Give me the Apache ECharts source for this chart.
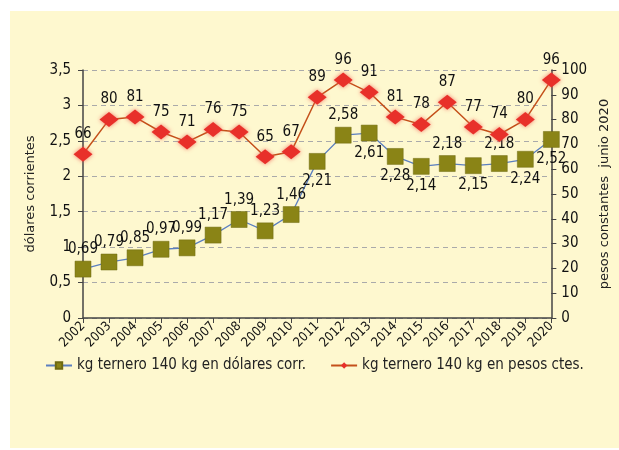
<!DOCTYPE html>
<html>
<head>
<meta charset="utf-8">
<script src="https://cdn.jsdelivr.net/npm/echarts@6/dist/echarts.min.js"></script>
<style>
  html, body { margin: 0; padding: 0; background: #ffffff; }
  #panel { position: absolute; left: 10px; top: 11px; width: 609px; height: 437px; background: #fef8cf; }
  #chart { position: absolute; left: 0; top: 0; width: 619px; height: 450px; }
</style>
</head>
<body>
<div id="panel"></div>
<div id="chart"></div>
<script>
// years on the x axis
const years = ['2002', '2003', '2004', '2005', '2006', '2007', '2008', '2009', '2010', '2011',
  '2012', '2013', '2014', '2015', '2016', '2017', '2018', '2019', '2020'];
// kg ternero en dólares corrientes
const dolares = [0.69, 0.79, 0.85, 0.97, 0.99, 1.17, 1.39, 1.23, 1.46, 2.21,
  2.58, 2.61, 2.28, 2.14, 2.18, 2.15, 2.18, 2.24, 2.52];
// kg ternero en pesos constantes
const pesos = [66, 80, 81, 75, 71, 76, 75, 65, 67, 89, 96, 91, 81, 78, 87, 77, 74, 80, 96];
// where each dollar label sits
const dolarLabelPos = ['top', 'top', 'top', 'top', 'top', 'top', 'top', 'top', 'top', 'bottom',
  'top', 'bottom', 'bottom', 'bottom', 'top', 'bottom', 'top', 'bottom', 'bottom'];

const font = '"DejaVu Sans Condensed", "Liberation Sans Narrow", sans-serif';
const comma = v => String(v).replace('.', ',');

const chart = echarts.init(document.getElementById('chart'));
chart.setOption({
  textStyle: { fontFamily: font },
  grid: { left: 83, right: 67, top: 70, bottom: 132 },
  legend: {
    left: 40, top: 353, width: 570,
    itemWidth: 26, itemHeight: 8, itemGap: 24,
    textStyle: { fontFamily: font, fontSize: 15, color: '#222' },
    data: ['kg ternero 140 kg en dólares corr.', 'kg ternero 140 kg en pesos ctes.']
  },
  xAxis: {
    type: 'category',
    data: years,
    boundaryGap: false,
    axisLine: { lineStyle: { color: '#444', width: 1.5 } },
    axisTick: { show: true, length: 5, lineStyle: { color: '#444' } },
    axisLabel: { rotate: 45, color: '#111', fontSize: 13, margin: 6, fontFamily: font }
  },
  yAxis: [
    {
      type: 'value', min: 0, max: 3.5, interval: 0.5,
      name: 'dólares corrientes', nameLocation: 'middle', nameRotate: 90, nameGap: 46,
      nameTextStyle: { fontFamily: 'DejaVu Sans', fontSize: 13, color: '#222' },
      axisLine: { show: true, lineStyle: { color: '#444', width: 1.5 } },
      axisTick: { show: true, length: 5, lineStyle: { color: '#444' } },
      axisLabel: { color: '#111', fontSize: 15, margin: 12, formatter: comma, fontFamily: font },
      splitLine: { lineStyle: { color: '#aaa', type: [5, 4] } }
    },
    {
      type: 'value', min: 0, max: 100, interval: 10, position: 'right',
      name: 'pesos constantes  junio 2020', nameLocation: 'middle', nameRotate: 90, nameGap: 42,
      nameTextStyle: { fontFamily: 'DejaVu Sans', fontSize: 13, color: '#222' },
      axisLine: { show: true, lineStyle: { color: '#444', width: 1.5 } },
      axisTick: { show: true, length: 5, lineStyle: { color: '#444' } },
      axisLabel: { color: '#111', fontSize: 15, margin: 10, fontFamily: font },
      splitLine: { show: false }
    }
  ],
  series: [
    {
      name: 'kg ternero 140 kg en dólares corr.',
      type: 'line',
      yAxisIndex: 0,
      data: dolares.map((v, i) => ({ value: v, label: { position: dolarLabelPos[i] } })),
      symbol: 'rect', symbolSize: 16,
      lineStyle: { color: '#5b7fc0', width: 1.3 },
      itemStyle: { color: '#8a8416', borderColor: '#6e6a10', borderWidth: 0.5 },
      label: {
        show: true, fontSize: 15, color: '#111', distance: 4,
        fontFamily: font, formatter: p => comma(p.value)
      },
      z: 3
    },
    {
      name: 'kg ternero 140 kg en pesos ctes.',
      type: 'line',
      yAxisIndex: 1,
      data: pesos,
      symbol: 'diamond', symbolSize: [19, 15],
      lineStyle: { color: '#c4501a', width: 1.5 },
      itemStyle: { color: '#e8302a', shadowColor: 'rgba(240,90,80,0.8)', shadowBlur: 4 },
      label: { show: true, position: 'top', fontSize: 15, color: '#111', distance: 5, fontFamily: font },
      z: 4
    }
  ]
});
</script>
</body>
</html>
